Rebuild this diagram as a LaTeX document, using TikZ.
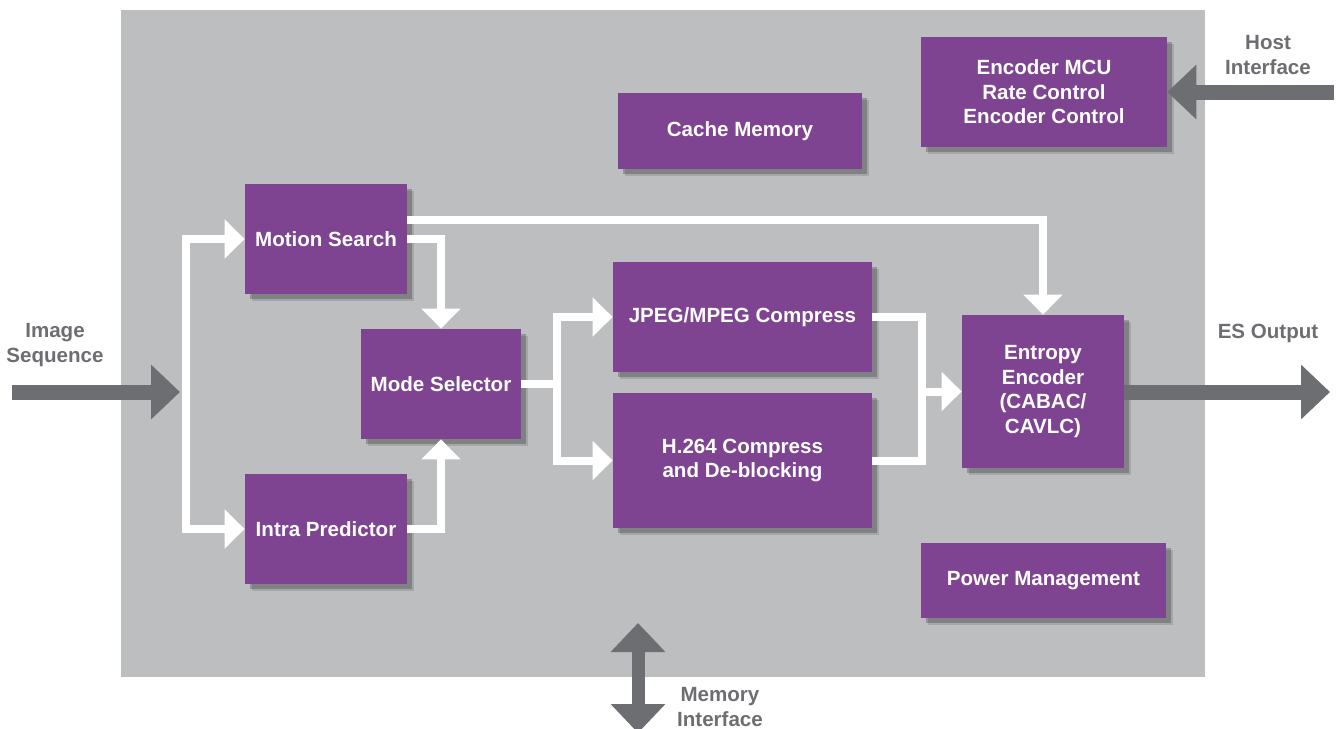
\documentclass[tikz,border=0pt]{standalone}
\usepackage{fontspec}
\setmainfont{Liberation Sans}
\usepackage{tikz}
\usetikzlibrary{arrows.meta,calc,shadows}
\definecolor{plum}{HTML}{7E4391}
\definecolor{chip}{HTML}{BCBEC0}
\definecolor{slate}{HTML}{6D6E71}
\tikzset{
  font=\bfseries\fontsize{11.7}{14}\selectfont,
  block/.style={
    fill=plum, text=white, align=center, inner sep=2pt,
    drop shadow={shadow xshift=1.4mm, shadow yshift=-1.4mm, fill=black, opacity=.12},
    drop shadow={shadow xshift=1mm, shadow yshift=-1mm, fill=black, opacity=.22}
  },
  wline/.style={draw=white, line width=1.6mm},
  wflow/.style={draw=white, line width=1.6mm, -{Triangle[length=4mm,width=7.6mm]}},
  port/.style={draw=slate, line width=3mm, -{Triangle[length=5.8mm,width=10.6mm]}},
  biport/.style={draw=slate, line width=2.6mm, {Triangle[length=5.8mm,width=10.6mm]}-{Triangle[length=5.8mm,width=10.6mm]}},
  portlabel/.style={text=slate, align=center, inner sep=0pt}
}
\begin{document}
\begin{tikzpicture}[x=0.2mm,y=-0.2mm]
  \useasboundingbox (0,0) rectangle (1338,728);
  \fill[chip] (121,10) rectangle (1205,677);

  % blocks
  \node[block, minimum width=48.8mm, minimum height=15.2mm] (cache) at (740,131) {Cache Memory};
  \node[block, minimum width=49.2mm, minimum height=22mm] (mcu) at (1044,92) {Encoder MCU\\Rate Control\\Encoder Control};
  \node[block, minimum width=32.4mm, minimum height=22mm] (motion) at (326,239) {Motion Search};
  \node[block, minimum width=32.4mm, minimum height=22mm] (intra) at (326,529) {Intra Predictor};
  \node[block, minimum width=32mm, minimum height=22mm] (mode) at (441,384) {Mode Selector};
  \node[block, minimum width=51.8mm, minimum height=22mm] (jpeg) at (742.5,317) {JPEG/MPEG Compress};
  \node[block, minimum width=51.8mm, minimum height=27mm] (h264) at (742.5,460.5) {H.264 Compress\\and De-blocking};
  \node[block, minimum width=32.4mm, minimum height=30.6mm] (entropy) at (1043,391.5) {Entropy\\Encoder\\(CABAC/\\CAVLC)};
  \node[block, minimum width=49mm, minimum height=15mm] (power) at (1043.5,580.5) {Power Management};

  % internal data paths
  \coordinate (fork) at (186,392);
  \coordinate (split) at (557,384);
  \coordinate (merge) at (922,391.5);
  \draw[wflow] (fork) |- (motion.west);
  \draw[wflow] (fork) |- (intra.west);
  \draw[wflow] ($(motion.east)+(0,-19)$) -| (entropy.north);
  \draw[wflow] (motion.east) -| (mode.north);
  \draw[wflow] (intra.east) -| (mode.south);
  \draw[wflow] (mode.east) -- (split) |- (jpeg.west);
  \draw[wflow] (split) |- (h264.west);
  \draw[wline] (jpeg.east) -| (merge) |- (h264.east);
  \draw[wflow] (merge) -- (entropy.west);

  % external interfaces
  \coordinate (imgin) at (12,392);
  \coordinate (esout) at (1330,392);
  \coordinate (hostin) at (1334,92);
  \coordinate (memhi) at (638,623);
  \coordinate (memlo) at (638,733);
  \draw[port] (imgin) -- ($(fork)+(-6,0)$);
  \draw[port] (entropy.east |- esout) -- (esout);
  \draw[port] (hostin) -- (mcu.east);
  \draw[biport] (memlo) -- (memhi);

  \node[portlabel] (imglabel) at (55,345) {Image\\Sequence};
  \node[portlabel] (eslabel) at (1268,333) {ES Output};
  \node[portlabel] (hostlabel) at (1268,55) {Host\\Interface};
  \node[portlabel] (memlabel) at (720,707) {Memory\\Interface};
\end{tikzpicture}
\end{document}
